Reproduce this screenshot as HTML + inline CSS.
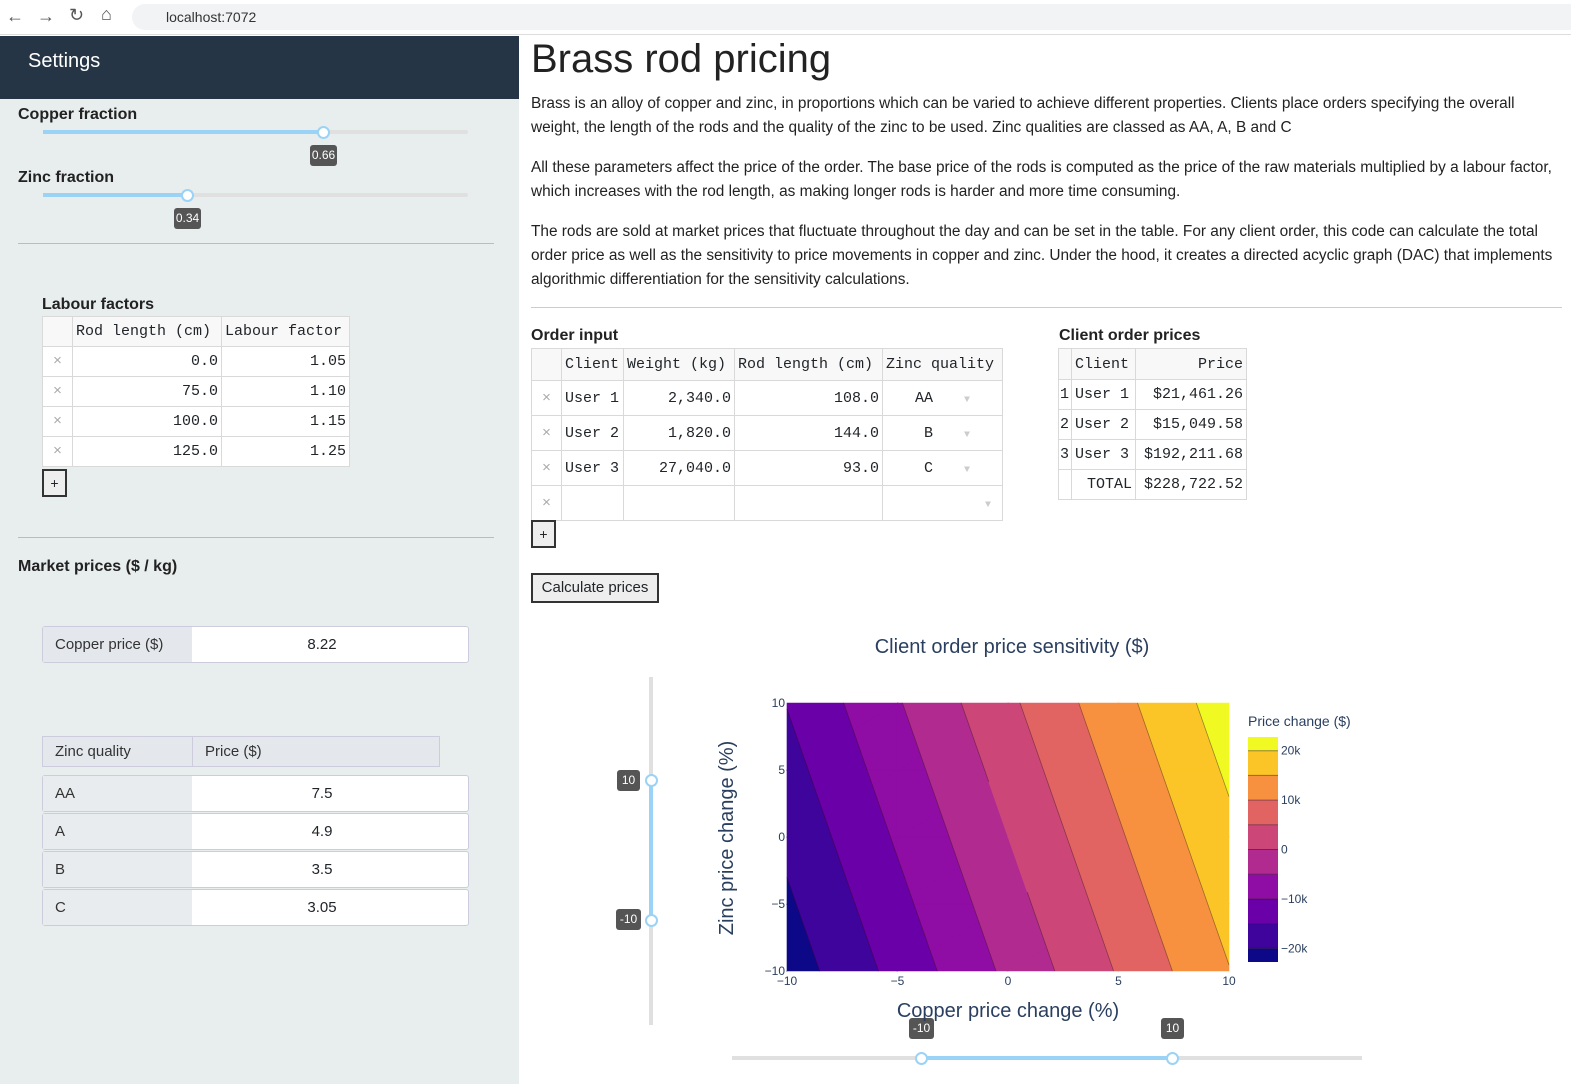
<!DOCTYPE html>
<html><head><meta charset="utf-8">
<style>
*{box-sizing:border-box;margin:0;padding:0}
body{width:1571px;height:1084px;overflow:hidden;font-family:"Liberation Sans",sans-serif;background:#fff;position:relative;color:#212529}
.abs{position:absolute}
.mono{font-family:"Liberation Mono",monospace;font-size:15px}
table{border-collapse:collapse}
td,th{border:1px solid #d9d9d9;font-weight:normal;padding:0 3px}
.lbl{font-size:16px;font-weight:bold;color:#222}
.tip{position:absolute;background:#555;color:#fff;font-size:12px;border-radius:3px;text-align:center;line-height:21px;height:21px}
.handle{position:absolute;width:13px;height:13px;border-radius:50%;background:#fff;border:2px solid #9ad3f5}
p{font-size:15.4px;line-height:24px;color:#222}
</style></head>
<body>
<div class="abs" style="left:0;top:0;width:1571px;height:35px;background:#fff;border-bottom:1px solid #ddd">
 <div class="abs" style="left:6px;top:6px;font-size:18px;color:#555">&#8592;</div>
 <div class="abs" style="left:37px;top:6px;font-size:18px;color:#555">&#8594;</div>
 <div class="abs" style="left:69px;top:5px;font-size:18px;color:#555">&#8635;</div>
 <div class="abs" style="left:101px;top:4px;font-size:18px;color:#555">&#8962;</div>
 <div class="abs" style="left:132px;top:4px;width:1450px;height:26px;background:#f1f3f4;border-radius:13px;font-size:14px;line-height:26px;padding-left:34px;color:#333">localhost:7072</div>
</div>

<div class="abs" style="left:0;top:36px;width:519px;height:1048px;background:#e8eded">
 <div class="abs" style="left:0;top:0;width:519px;height:63px;background:#253546;color:#fff;font-size:20px;line-height:50px;padding-left:28px">Settings</div>
</div>
<div class="abs lbl" style="left:18px;top:106px">Copper fraction</div>
<div class="abs" style="left:43px;top:130px;width:425px;height:4px;background:#e0e0e0;border-radius:2px"></div>
<div class="abs" style="left:43px;top:130px;width:280px;height:4px;background:#9ad3f5"></div>
<div class="handle" style="left:317px;top:126px"></div>
<div class="tip" style="left:310px;top:145px;width:27px">0.66</div>
<div class="abs lbl" style="left:18px;top:169px">Zinc fraction</div>
<div class="abs" style="left:43px;top:193px;width:425px;height:4px;background:#e0e0e0;border-radius:2px"></div>
<div class="abs" style="left:43px;top:193px;width:144px;height:4px;background:#9ad3f5"></div>
<div class="handle" style="left:181px;top:189px"></div>
<div class="tip" style="left:174px;top:208px;width:27px">0.34</div>
<div class="abs" style="left:18px;top:243px;width:476px;height:1px;background:#bbb"></div>

<div class="abs lbl" style="left:42px;top:296px">Labour factors</div>
<table class="abs mono" style="left:42px;top:316px;width:308px;background:#fff">
 <tr style="height:30px;background:#f8f8f8"><th style="width:30px"></th><th style="text-align:left;width:149px">Rod length (cm)</th><th style="text-align:left">Labour factor</th></tr>
 <tr style="height:30px"><td style="color:#aaa;text-align:center">×</td><td style="text-align:right">0.0</td><td style="text-align:right">1.05</td></tr>
 <tr style="height:30px"><td style="color:#aaa;text-align:center">×</td><td style="text-align:right">75.0</td><td style="text-align:right">1.10</td></tr>
 <tr style="height:30px"><td style="color:#aaa;text-align:center">×</td><td style="text-align:right">100.0</td><td style="text-align:right">1.15</td></tr>
 <tr style="height:30px"><td style="color:#aaa;text-align:center">×</td><td style="text-align:right">125.0</td><td style="text-align:right">1.25</td></tr>
</table>
<div class="abs" style="left:42px;top:469px;width:25px;height:28px;border:2px solid #333;background:#eee;text-align:center;line-height:24px;font-size:14px">+</div>
<div class="abs" style="left:18px;top:537px;width:476px;height:1px;background:#bbb"></div>
<div class="abs lbl" style="left:18px;top:558px">Market prices ($ / kg)</div>

<div class="abs" style="left:42px;top:626px;width:427px;height:37px;border:1px solid #ccd;border-radius:3px;background:#fff;font-size:15px">
 <div class="abs" style="left:0;top:0;width:149px;height:35px;background:#e4e8ed;line-height:35px;padding-left:12px;color:#333">Copper price ($)</div>
 <div class="abs" style="left:149px;top:0;width:260px;height:35px;line-height:35px;text-align:center">8.22</div>
</div>
<div class="abs" style="left:42px;top:736px;width:398px;height:31px;background:#e4e8ed;border:1px solid #ccd;font-size:15px;line-height:29px;color:#333">
 <span class="abs" style="left:12px">Zinc quality</span><span class="abs" style="left:149px;top:0;height:29px;border-left:1px solid #ccd;padding-left:12px">Price ($)</span>
</div>
<div id="zincRows"></div>

<div class="abs" style="left:531px;top:37px;font-size:40px;color:#222">Brass rod pricing</div>
<div class="abs" style="left:531px;top:92px;width:1035px">
<p>Brass is an alloy of copper and zinc, in proportions which can be varied to achieve different properties. Clients place orders specifying the overall weight, the length of the rods and the quality of the zinc to be used. Zinc qualities are classed as AA, A, B and C</p>
<p style="margin-top:16px">All these parameters affect the price of the order. The base price of the rods is computed as the price of the raw materials multiplied by a labour factor, which increases with the rod length, as making longer rods is harder and more time consuming.</p>
<p style="margin-top:16px">The rods are sold at market prices that fluctuate throughout the day and can be set in the table. For any client order, this code can calculate the total order price as well as the sensitivity to price movements in copper and zinc. Under the hood, it creates a directed acyclic graph (DAC) that implements algorithmic differentiation for the sensitivity calculations.</p>
</div>
<div class="abs" style="left:531px;top:307px;width:1031px;height:1px;background:#ccc"></div>

<div class="abs lbl" style="left:531px;top:327px">Order input</div>
<table class="abs mono" style="left:531px;top:348px;width:472px">
 <tr style="height:32px;background:#f8f8f8"><th style="width:30px"></th><th style="text-align:left;width:62px">Client</th><th style="text-align:left;width:111px">Weight (kg)</th><th style="text-align:left;width:148px">Rod length (cm)</th><th style="text-align:left">Zinc quality</th></tr>
 <tr style="height:35px"><td style="color:#aaa;text-align:center">×</td><td>User 1</td><td style="text-align:right">2,340.0</td><td style="text-align:right">108.0</td><td style="text-align:center">AA <span style="color:#ccc;font-size:10px;padding-left:22px">▼</span></td></tr>
 <tr style="height:35px"><td style="color:#aaa;text-align:center">×</td><td>User 2</td><td style="text-align:right">1,820.0</td><td style="text-align:right">144.0</td><td style="text-align:center">&nbsp;B <span style="color:#ccc;font-size:10px;padding-left:22px">▼</span></td></tr>
 <tr style="height:35px"><td style="color:#aaa;text-align:center">×</td><td>User 3</td><td style="text-align:right">27,040.0</td><td style="text-align:right">93.0</td><td style="text-align:center">&nbsp;C <span style="color:#ccc;font-size:10px;padding-left:22px">▼</span></td></tr>
 <tr style="height:35px"><td style="color:#aaa;text-align:center">×</td><td></td><td></td><td></td><td style="text-align:right"><span style="color:#ccc;font-size:10px;padding-right:8px">▼</span></td></tr>
</table>
<div class="abs" style="left:531px;top:520px;width:25px;height:28px;border:2px solid #333;background:#eee;text-align:center;line-height:24px;font-size:14px">+</div>
<div class="abs" style="left:531px;top:573px;width:128px;height:30px;border:2px solid #333;background:#eee;font-size:15px;line-height:26px;text-align:center">Calculate prices</div>

<div class="abs lbl" style="left:1059px;top:327px">Client order prices</div>
<table class="abs mono" style="left:1058px;top:348px;width:189px">
 <tr style="height:31px;background:#f8f8f8"><th style="width:13px;padding:0"></th><th style="text-align:left;width:64px">Client</th><th style="text-align:right">Price</th></tr>
 <tr style="height:30px"><td style="padding:0 1px">1</td><td>User 1</td><td style="text-align:right">$21,461.26</td></tr>
 <tr style="height:30px"><td style="padding:0 1px">2</td><td>User 2</td><td style="text-align:right">$15,049.58</td></tr>
 <tr style="height:30px"><td style="padding:0 1px">3</td><td>User 3</td><td style="text-align:right">$192,211.68</td></tr>
 <tr style="height:30px"><td></td><td style="text-align:right">TOTAL</td><td style="text-align:right">$228,722.52</td></tr>
</table>

<div class="abs" style="left:649px;top:677px;width:4px;height:348px;background:#e0e0e0"></div>
<div class="abs" style="left:649px;top:780px;width:4px;height:140px;background:#9ad3f5"></div>
<div class="handle" style="left:645px;top:774px"></div>
<div class="handle" style="left:645px;top:914px"></div>
<div class="tip" style="left:617px;top:770px;width:23px">10</div>
<div class="tip" style="left:616px;top:909px;width:25px">-10</div>
<div class="abs" style="left:732px;top:1056px;width:630px;height:4px;background:#e0e0e0"></div>
<div class="abs" style="left:921px;top:1056px;width:251px;height:4px;background:#9ad3f5"></div>
<div class="handle" style="left:915px;top:1052px"></div>
<div class="handle" style="left:1166px;top:1052px"></div>
<div class="tip" style="left:909px;top:1018px;width:25px">-10</div>
<div class="tip" style="left:1161px;top:1018px;width:23px">10</div>

<svg class="abs" id="chart" style="left:0;top:0" width="1571" height="1084"></svg>

<script>
const zincQualities=["AA","A","B","C"];
const zincPrices=["7.5","4.9","3.5","3.05"];
(function(){
 const host=document.getElementById('zincRows');
 const tops=[775,813,851,889];
 zincQualities.forEach((q,i)=>{
  const d=document.createElement('div');
  
  
  d.className='abs';
  d.style.cssText='left:42px;top:'+tops[i]+'px;width:427px;height:37px;border:1px solid #ccd;border-radius:3px;background:#fff;font-size:15px';
  d.innerHTML='<div class="abs" style="left:0;top:0;width:149px;height:35px;background:#e9ecef;line-height:35px;padding-left:12px;color:#333">'+q+'</div><div class="abs" style="left:149px;top:0;width:260px;height:35px;line-height:35px;text-align:center">'+zincPrices[i]+'</div>';
  host.appendChild(d);
 });
})();

const copperChange=[-10,-5,0,5,10];
const zincChange=[-10,-5,0,5,10];
const priceChange=[
 [-22780,-13380,-3980,5420,14820],
 [-20790,-11390,-1990,7410,16810],
 [-18800,-9400,0,9400,18800],
 [-16810,-7410,1990,11390,20790],
 [-14820,-5420,3980,13380,22780]
];
const contourLevels=[-20000,-15000,-10000,-5000,0,5000,10000,15000,20000];
const xTicks=[-10,-5,0,5,10];
const yTicks=[-10,-5,0,5,10];
const cbTicks=[-20000,-10000,0,10000,20000];
const cbTickLabels=["\u221220k","\u221210k","0","10k","20k"];
const bandColors=["#0d0887","#3e049c","#6a00a8","#8f0da4","#b12a90","#cc4778","#e16462","#f7913f","#fcc527","#f0f921"];

const NS='http://www.w3.org/2000/svg';
const svg=document.getElementById('chart');
const PX0=787,PX1=1229,PY0=971,PY1=703;
const xmin=Math.min(...copperChange),xmax=Math.max(...copperChange);
const ymin=Math.min(...zincChange),ymax=Math.max(...zincChange);
const sx=v=>PX0+(v-xmin)/(xmax-xmin)*(PX1-PX0);
const sy=v=>PY0-(v-ymin)/(ymax-ymin)*(PY0-PY1);
function mk(t,a,parent){const e=document.createElementNS(NS,t);for(const k in a)e.setAttribute(k,a[k]);(parent||svg).appendChild(e);return e;}
const allZ=priceChange.flat();
const zmin=Math.min(...allZ),zmax=Math.max(...allZ);
const bounds=[-Infinity,...contourLevels,Infinity];
const nb=bounds.length-1;
function bandColor(i){return bandColors[Math.min(i,bandColors.length-1)];}

function clip(poly,lv,above){
 const out=[];
 for(let i=0;i<poly.length;i++){
  const a=poly[i],b=poly[(i+1)%poly.length];
  const ia=above?a.z>=lv:a.z<=lv, ib=above?b.z>=lv:b.z<=lv;
  if(ia)out.push(a);
  if(ia!==ib){const t=(lv-a.z)/(b.z-a.z);out.push({x:a.x+t*(b.x-a.x),y:a.y+t*(b.y-a.y),z:lv});}
 }
 return out;
}
const gBands=mk('g',{});


const gLines=mk('g',{});


for(let r=0;r<zincChange.length-1;r++){
 for(let c=0;c<copperChange.length-1;c++){
  const P=(rr,cc)=>({x:copperChange[cc],y:zincChange[rr],z:priceChange[rr][cc]});
  const tris=[[P(r,c),P(r,c+1),P(r+1,c+1)],[P(r,c),P(r+1,c+1),P(r+1,c)]];
  tris.forEach(tri=>{
   for(let b=0;b<nb;b++){
    let poly=tri;
    if(isFinite(bounds[b]))poly=clip(poly,bounds[b],true);
    if(poly.length<3)continue;
    if(isFinite(bounds[b+1]))poly=clip(poly,bounds[b+1],false);
    if(poly.length<3)continue;
    const col=bandColor(b);
    const el=mk('polygon',{points:poly.map(p=>sx(p.x).toFixed(2)+','+sy(p.y).toFixed(2)).join(' '),fill:col,stroke:col,'stroke-width':0.6},gBands);
    
    
   }
   contourLevels.forEach(lv=>{
    const pts=[];
    for(let i=0;i<3;i++){const a=tri[i],bb=tri[(i+1)%3];
     if((a.z-lv)*(bb.z-lv)<0){const t=(lv-a.z)/(bb.z-a.z);pts.push([a.x+t*(bb.x-a.x),a.y+t*(bb.y-a.y)]);}}
    if(pts.length===2){
     const ln=mk('line',{x1:sx(pts[0][0]),y1:sy(pts[0][1]),x2:sx(pts[1][0]),y2:sy(pts[1][1]),stroke:'rgba(40,0,30,0.45)','stroke-width':0.8},gLines);
     
     
    }
   });
  });
 }
}
const F='font-family:"Liberation Sans",sans-serif;';
const TC='#2a3f5f';
xTicks.forEach(v=>{const t=mk('text',{x:sx(v),y:PY0+14,'text-anchor':'middle','font-size':12,fill:TC,style:F});t.textContent=v<0?'\u2212'+(-v):v;
 });
yTicks.forEach(v=>{const t=mk('text',{x:PX0-2,y:sy(v)+4,'text-anchor':'end','font-size':12,fill:TC,style:F});t.textContent=v<0?'\u2212'+(-v):v;
 });
let t=mk('text',{x:1012,y:653,'text-anchor':'middle','font-size':20,fill:TC,style:F});t.textContent='Client order price sensitivity ($)';

t=mk('text',{x:1008,y:1017,'text-anchor':'middle','font-size':20,fill:TC,style:F});t.textContent='Copper price change (%)';

t=mk('text',{x:733,y:838,'text-anchor':'middle','font-size':20,fill:TC,style:F,transform:'rotate(-90 733 838)'});t.textContent='Zinc price change (%)';

const CB0=962,CB1=737,CBX=1248,CBW=30;
const cy=v=>CB0-(v-zmin)/(zmax-zmin)*(CB0-CB1);
t=mk('text',{x:1248,y:726,'font-size':14,fill:TC,style:F});t.textContent='Price change ($)';

for(let b=0;b<nb;b++){
 const lo=Math.max(bounds[b],zmin),hi=Math.min(bounds[b+1],zmax);
 const r=mk('rect',{x:CBX,y:cy(hi),width:CBW,height:cy(lo)-cy(hi),fill:bandColor(b)});
 
}
contourLevels.forEach(lv=>{const l=mk('line',{x1:CBX,x2:CBX+CBW,y1:cy(lv),y2:cy(lv),stroke:'rgba(40,0,30,0.45)','stroke-width':1});
 });
cbTicks.forEach((v,i)=>{const tt=mk('text',{x:CBX+CBW+3,y:cy(v)+4,'font-size':12,fill:TC,style:F});tt.textContent=cbTickLabels[i];
 });
</script>
</body></html>
